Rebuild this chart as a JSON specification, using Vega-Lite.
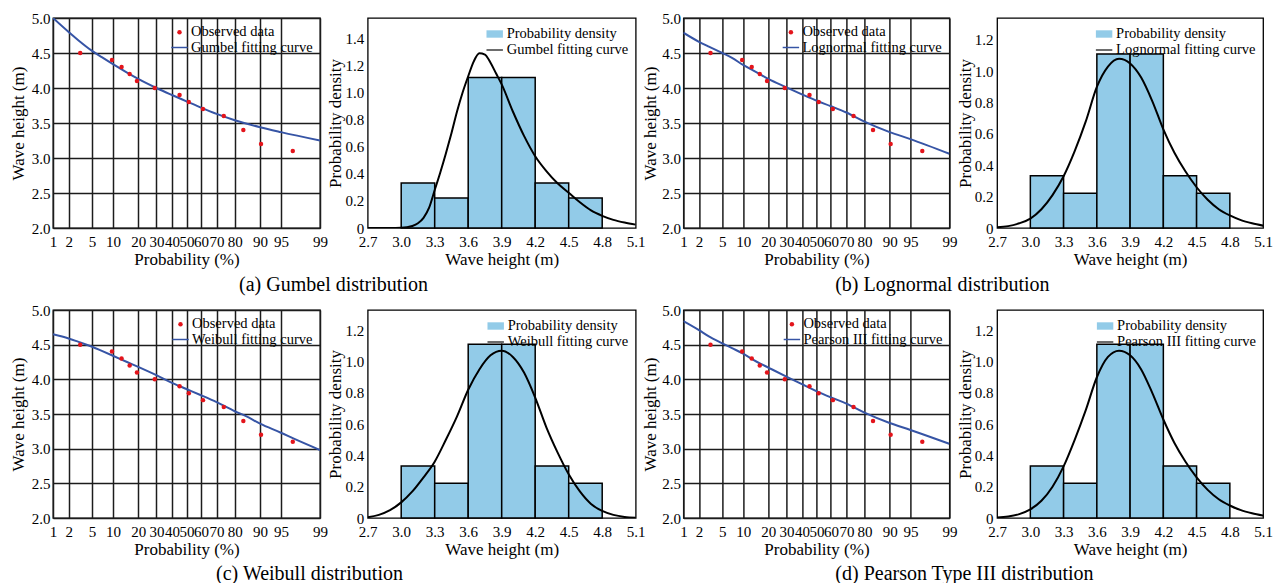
{
"$schema": "https://vega.github.io/schema/vega-lite/v6.json",
"padding": {"left": 8, "top": 10, "right": 5, "bottom": 2},
"background": "white",
"config": {
 "font": "Liberation Serif",
 "view": {"stroke": "black", "strokeWidth": 1.3},
 "axis": {"labelFontSize": 15, "titleFontSize": 17, "titleFontWeight": "normal", "labelColor": "black", "titleColor": "black", "domain": false, "labelFlush": false, "labelOverlap": false, "tickCount": 40, "ticks": false, "tickColor": "black", "gridColor": "#1c1c1c", "gridWidth": 1.5, "gridOpacity": 1, "labelFont": "Liberation Serif", "titleFont": "Liberation Serif"},
 "legend": {"labelFont": "Liberation Serif", "labelFontSize": 14.5, "labelColor": "black", "orient": "top-right", "offset": 5, "rowPadding": 0, "labelOffset": 3, "padding": 2},
 "title": {"font": "Liberation Serif", "fontSize": 20, "fontWeight": "normal", "color": "black"}
},
"datasets": {
 "obs": [
  {"p": 3.2, "h": 4.5, "s": "Observed data"}, {"p": 9.7, "h": 4.4, "s": "Observed data"}, {"p": 12.9, "h": 4.3, "s": "Observed data"}, {"p": 16.1, "h": 4.2, "s": "Observed data"}, {"p": 19.4, "h": 4.1, "s": "Observed data"}, {"p": 29.0, "h": 4.0, "s": "Observed data"}, {"p": 45.2, "h": 3.9, "s": "Observed data"}, {"p": 51.6, "h": 3.8, "s": "Observed data"}, {"p": 61.3, "h": 3.7, "s": "Observed data"}, {"p": 74.2, "h": 3.6, "s": "Observed data"}, {"p": 83.9, "h": 3.4, "s": "Observed data"}, {"p": 90.3, "h": 3.2, "s": "Observed data"}, {"p": 96.8, "h": 3.1, "s": "Observed data"}
 ],
 "gumbelCurve": [
  {"p": 1, "h": 5.0}, {"p": 2, "h": 4.8}, {"p": 3, "h": 4.68}, {"p": 5, "h": 4.53}, {"p": 7, "h": 4.44}, {"p": 10, "h": 4.34}, {"p": 15, "h": 4.22}, {"p": 20, "h": 4.13}, {"p": 30, "h": 4.0}, {"p": 40, "h": 3.9}, {"p": 50, "h": 3.81}, {"p": 60, "h": 3.72}, {"p": 70, "h": 3.63}, {"p": 80, "h": 3.54}, {"p": 90, "h": 3.44}, {"p": 95, "h": 3.37}, {"p": 99, "h": 3.25}
 ],
 "lognormCurve": [
  {"p": 1, "h": 4.79}, {"p": 2, "h": 4.66}, {"p": 3, "h": 4.59}, {"p": 5, "h": 4.5}, {"p": 7, "h": 4.43}, {"p": 10, "h": 4.33}, {"p": 15, "h": 4.22}, {"p": 20, "h": 4.13}, {"p": 30, "h": 4.01}, {"p": 40, "h": 3.91}, {"p": 50, "h": 3.82}, {"p": 60, "h": 3.74}, {"p": 70, "h": 3.65}, {"p": 80, "h": 3.52}, {"p": 90, "h": 3.37}, {"p": 95, "h": 3.27}, {"p": 99, "h": 3.06}
 ],
 "weibullCurve": [
  {"p": 1, "h": 4.65}, {"p": 2, "h": 4.59}, {"p": 3, "h": 4.54}, {"p": 5, "h": 4.47}, {"p": 7, "h": 4.41}, {"p": 10, "h": 4.34}, {"p": 15, "h": 4.25}, {"p": 20, "h": 4.18}, {"p": 30, "h": 4.06}, {"p": 40, "h": 3.95}, {"p": 50, "h": 3.86}, {"p": 60, "h": 3.77}, {"p": 70, "h": 3.67}, {"p": 80, "h": 3.54}, {"p": 85, "h": 3.47}, {"p": 90, "h": 3.36}, {"p": 95, "h": 3.23}, {"p": 97, "h": 3.14}, {"p": 99, "h": 2.98}
 ],
 "pearsonCurve": [
  {"p": 1, "h": 4.84}, {"p": 2, "h": 4.71}, {"p": 3, "h": 4.62}, {"p": 5, "h": 4.52}, {"p": 7, "h": 4.45}, {"p": 10, "h": 4.37}, {"p": 15, "h": 4.25}, {"p": 20, "h": 4.17}, {"p": 30, "h": 4.04}, {"p": 40, "h": 3.93}, {"p": 50, "h": 3.83}, {"p": 60, "h": 3.74}, {"p": 70, "h": 3.65}, {"p": 80, "h": 3.52}, {"p": 90, "h": 3.37}, {"p": 95, "h": 3.27}, {"p": 99, "h": 3.07}
 ],
 "hist": [
  {"x0": 3.0, "x1": 3.3, "d": 0.333, "s": "Probability density"}, {"x0": 3.3, "x1": 3.6, "d": 0.222, "s": "Probability density"}, {"x0": 3.6, "x1": 3.9, "d": 1.111, "s": "Probability density"}, {"x0": 3.9, "x1": 4.2, "d": 1.111, "s": "Probability density"}, {"x0": 4.2, "x1": 4.5, "d": 0.333, "s": "Probability density"}, {"x0": 4.5, "x1": 4.8, "d": 0.222, "s": "Probability density"}
 ],
 "gumbelPdf": [
  {"x": 2.7, "d": 0}, {"x": 2.8, "d": 0}, {"x": 2.9, "d": 0}, {"x": 3.0, "d": 0.002}, {"x": 3.05, "d": 0.006}, {"x": 3.1, "d": 0.015}, {"x": 3.15, "d": 0.035}, {"x": 3.2, "d": 0.075}, {"x": 3.25, "d": 0.15}, {"x": 3.3, "d": 0.28}, {"x": 3.35, "d": 0.41}, {"x": 3.4, "d": 0.55}, {"x": 3.45, "d": 0.7}, {"x": 3.5, "d": 0.86}, {"x": 3.55, "d": 1.0}, {"x": 3.6, "d": 1.12}, {"x": 3.65, "d": 1.23}, {"x": 3.7, "d": 1.29}, {"x": 3.75, "d": 1.28}, {"x": 3.8, "d": 1.22}, {"x": 3.85, "d": 1.14}, {"x": 3.9, "d": 1.06}, {"x": 4.0, "d": 0.86}, {"x": 4.1, "d": 0.68}, {"x": 4.2, "d": 0.53}, {"x": 4.3, "d": 0.42}, {"x": 4.4, "d": 0.33}, {"x": 4.5, "d": 0.26}, {"x": 4.6, "d": 0.19}, {"x": 4.7, "d": 0.13}, {"x": 4.8, "d": 0.09}, {"x": 4.9, "d": 0.06}, {"x": 5.0, "d": 0.04}, {"x": 5.1, "d": 0.025}
 ],
 "lognormPdf": [
  {"x": 2.7, "d": 0.005}, {"x": 2.8, "d": 0.012}, {"x": 2.9, "d": 0.03}, {"x": 3.0, "d": 0.06}, {"x": 3.1, "d": 0.12}, {"x": 3.2, "d": 0.21}, {"x": 3.3, "d": 0.33}, {"x": 3.4, "d": 0.49}, {"x": 3.5, "d": 0.68}, {"x": 3.6, "d": 0.9}, {"x": 3.7, "d": 1.03}, {"x": 3.8, "d": 1.08}, {"x": 3.9, "d": 1.05}, {"x": 4.0, "d": 0.96}, {"x": 4.1, "d": 0.81}, {"x": 4.2, "d": 0.63}, {"x": 4.3, "d": 0.48}, {"x": 4.4, "d": 0.36}, {"x": 4.5, "d": 0.26}, {"x": 4.6, "d": 0.18}, {"x": 4.7, "d": 0.12}, {"x": 4.8, "d": 0.08}, {"x": 4.9, "d": 0.05}, {"x": 5.0, "d": 0.03}, {"x": 5.1, "d": 0.015}
 ],
 "weibullPdf": [
  {"x": 2.7, "d": 0.005}, {"x": 2.8, "d": 0.02}, {"x": 2.9, "d": 0.05}, {"x": 3.0, "d": 0.1}, {"x": 3.1, "d": 0.17}, {"x": 3.2, "d": 0.26}, {"x": 3.3, "d": 0.36}, {"x": 3.4, "d": 0.5}, {"x": 3.5, "d": 0.65}, {"x": 3.6, "d": 0.82}, {"x": 3.7, "d": 0.95}, {"x": 3.8, "d": 1.04}, {"x": 3.9, "d": 1.07}, {"x": 4.0, "d": 1.03}, {"x": 4.1, "d": 0.93}, {"x": 4.2, "d": 0.77}, {"x": 4.3, "d": 0.58}, {"x": 4.4, "d": 0.42}, {"x": 4.5, "d": 0.28}, {"x": 4.6, "d": 0.17}, {"x": 4.7, "d": 0.09}, {"x": 4.8, "d": 0.045}, {"x": 4.9, "d": 0.02}, {"x": 5.0, "d": 0.007}, {"x": 5.1, "d": 0.002}
 ],
 "pearsonPdf": [
  {"x": 2.7, "d": 0.004}, {"x": 2.8, "d": 0.01}, {"x": 2.9, "d": 0.025}, {"x": 3.0, "d": 0.055}, {"x": 3.1, "d": 0.11}, {"x": 3.2, "d": 0.2}, {"x": 3.3, "d": 0.33}, {"x": 3.4, "d": 0.5}, {"x": 3.5, "d": 0.69}, {"x": 3.6, "d": 0.9}, {"x": 3.7, "d": 1.03}, {"x": 3.8, "d": 1.07}, {"x": 3.9, "d": 1.04}, {"x": 4.0, "d": 0.95}, {"x": 4.1, "d": 0.8}, {"x": 4.2, "d": 0.63}, {"x": 4.3, "d": 0.48}, {"x": 4.4, "d": 0.36}, {"x": 4.5, "d": 0.26}, {"x": 4.6, "d": 0.18}, {"x": 4.7, "d": 0.12}, {"x": 4.8, "d": 0.08}, {"x": 4.9, "d": 0.05}, {"x": 5.0, "d": 0.03}, {"x": 5.1, "d": 0.015}
 ]
},
"columns": 4,
"spacing": {"row": 82, "column": 47.7},
"bounds": "flush",
"resolve": {"scale": {"color": "independent", "shape": "independent", "size": "independent"}, "legend": {"color": "independent", "shape": "independent", "size": "independent"}},
"concat": [
  {"width": 267, "height": 210,
   "title": {"text": "(a) Gumbel distribution", "orient": "bottom", "anchor": "middle", "frame": "group", "offset": 8, "dx": 147},
   "layer": [
    {"data": {"name": "gumbelCurve"}, "transform": [{"calculate": "quantileNormal(datum.p/100)", "as": "z"}],
     "mark": {"type": "line", "color": "#3654a5", "strokeWidth": 2, "clip": true, "interpolate": "monotone"},
     "encoding": {
      "x": {"field": "z", "type": "quantitative", "scale": {"domain": [-2.3263, 2.3263], "nice": false, "zero": false}, "axis": {"values": [-2.3263, -2.0537, -1.6449, -1.2816, -0.8416, -0.5244, -0.2533, 0, 0.2533, 0.5244, 0.8416, 1.2816, 1.6449, 2.3263], "labelExpr": "format(cumulativeNormal(datum.value)*100, '.0f')", "title": "Probability (%)", "grid": true, "labelPadding": 6, "titlePadding": 2}},
      "y": {"field": "h", "type": "quantitative", "scale": {"domain": [2, 5], "nice": false, "zero": false}, "axis": {"values": [2, 2.5, 3, 3.5, 4, 4.5, 5], "format": ".1f", "title": "Wave height (m)", "grid": true, "labelPadding": 3, "titlePadding": 4}}
     }},
    {"data": {"name": "obs"}, "transform": [{"calculate": "quantileNormal(datum.p/100)", "as": "z"}],
     "mark": {"type": "point", "filled": true, "opacity": 1},
     "encoding": {
      "x": {"field": "z", "type": "quantitative"},
      "y": {"field": "h", "type": "quantitative"},
      "color": {"field": "s", "type": "nominal", "scale": {"domain": ["Observed data", "Gumbel fitting curve"], "range": ["#e3141b", "#3654a5"]}, "legend": {"title": null, "symbolStrokeWidth": 0}},
      "shape": {"field": "s", "type": "nominal", "scale": {"domain": ["Observed data", "Gumbel fitting curve"], "range": ["circle", "M-1,-0.09H1V0.09H-1Z"]}, "legend": {"title": null, "symbolStrokeWidth": 0}},
      "size": {"field": "s", "type": "nominal", "scale": {"domain": ["Observed data", "Gumbel fitting curve"], "range": [20, 270]}, "legend": {"title": null, "symbolStrokeWidth": 0}}
     }}
   ]},
  {"width": 268, "height": 210,
   "layer": [
    {"data": {"name": "hist"},
     "mark": {"type": "rect", "fill": "#92cbe8", "stroke": "black", "strokeWidth": 1.5},
     "encoding": {
      "x": {"field": "x0", "type": "quantitative", "scale": {"domain": [2.7, 5.1], "nice": false, "zero": false}, "axis": {"values": [2.7, 3.0, 3.3, 3.6, 3.9, 4.2, 4.5, 4.8, 5.1], "format": ".1f", "title": "Wave height (m)", "grid": false, "labelPadding": 6, "titlePadding": 2}},
      "x2": {"field": "x1"},
      "y": {"field": "d", "type": "quantitative", "scale": {"domain": [0, 1.55], "nice": false}, "axis": {"values": [0, 0.2, 0.4, 0.6, 0.8, 1.0, 1.2, 1.4], "labelExpr": "datum.value == 0 ? '0' : format(datum.value, '.1f')", "title": "Probability density", "grid": false, "labelPadding": 4, "titlePadding": 0}},
      "y2": {"datum": 0}
     }},
    {"data": {"name": "gumbelPdf"},
     "mark": {"type": "line", "color": "black", "strokeWidth": 2, "clip": true, "interpolate": "monotone"},
     "encoding": {"x": {"field": "x", "type": "quantitative"}, "y": {"field": "d", "type": "quantitative"}}},
    {"data": {"name": "hist"},
     "mark": {"type": "point", "filled": true, "opacity": 0},
     "encoding": {
      "x": {"field": "x0", "type": "quantitative"},
      "y": {"field": "d", "type": "quantitative"},
      "color": {"field": "s", "type": "nominal", "scale": {"domain": ["Probability density", "Gumbel fitting curve"], "range": ["#92cbe8", "black"]}, "legend": {"title": null, "symbolOpacity": 1, "symbolStrokeColor": "black", "symbolStrokeWidth": 1, "symbolSize": 270}},
      "shape": {"field": "s", "type": "nominal", "scale": {"domain": ["Probability density", "Gumbel fitting curve"], "range": ["M-1,-0.45H1V0.45H-1Z", "M-1,-0.07H1V0.07H-1Z"]}, "legend": {"title": null, "symbolOpacity": 1, "symbolStrokeColor": "black", "symbolStrokeWidth": 1, "symbolSize": 270}}
     }}
   ]},
  {"width": 266, "height": 210,
   "title": {"text": "(b) Lognormal distribution", "orient": "bottom", "anchor": "middle", "frame": "group", "offset": 8, "dx": 126},
   "layer": [
    {"data": {"name": "lognormCurve"}, "transform": [{"calculate": "quantileNormal(datum.p/100)", "as": "z"}],
     "mark": {"type": "line", "color": "#3654a5", "strokeWidth": 2, "clip": true, "interpolate": "monotone"},
     "encoding": {
      "x": {"field": "z", "type": "quantitative", "scale": {"domain": [-2.3263, 2.3263], "nice": false, "zero": false}, "axis": {"values": [-2.3263, -2.0537, -1.6449, -1.2816, -0.8416, -0.5244, -0.2533, 0, 0.2533, 0.5244, 0.8416, 1.2816, 1.6449, 2.3263], "labelExpr": "format(cumulativeNormal(datum.value)*100, '.0f')", "title": "Probability (%)", "grid": true, "labelPadding": 6, "titlePadding": 2}},
      "y": {"field": "h", "type": "quantitative", "scale": {"domain": [2, 5], "nice": false, "zero": false}, "axis": {"values": [2, 2.5, 3, 3.5, 4, 4.5, 5], "format": ".1f", "title": "Wave height (m)", "grid": true, "labelPadding": 3, "titlePadding": 2}}
     }},
    {"data": {"name": "obs"}, "transform": [{"calculate": "quantileNormal(datum.p/100)", "as": "z"}],
     "mark": {"type": "point", "filled": true, "opacity": 1},
     "encoding": {
      "x": {"field": "z", "type": "quantitative"},
      "y": {"field": "h", "type": "quantitative"},
      "color": {"field": "s", "type": "nominal", "scale": {"domain": ["Observed data", "Lognormal fitting curve"], "range": ["#e3141b", "#3654a5"]}, "legend": {"title": null, "symbolStrokeWidth": 0}},
      "shape": {"field": "s", "type": "nominal", "scale": {"domain": ["Observed data", "Lognormal fitting curve"], "range": ["circle", "M-1,-0.09H1V0.09H-1Z"]}, "legend": {"title": null, "symbolStrokeWidth": 0}},
      "size": {"field": "s", "type": "nominal", "scale": {"domain": ["Observed data", "Lognormal fitting curve"], "range": [20, 270]}, "legend": {"title": null, "symbolStrokeWidth": 0}}
     }}
   ]},
  {"width": 266, "height": 210,
   "layer": [
    {"data": {"name": "hist"},
     "mark": {"type": "rect", "fill": "#92cbe8", "stroke": "black", "strokeWidth": 1.5},
     "encoding": {
      "x": {"field": "x0", "type": "quantitative", "scale": {"domain": [2.7, 5.1], "nice": false, "zero": false}, "axis": {"values": [2.7, 3.0, 3.3, 3.6, 3.9, 4.2, 4.5, 4.8, 5.1], "format": ".1f", "title": "Wave height (m)", "grid": false, "labelPadding": 6, "titlePadding": 2}},
      "x2": {"field": "x1"},
      "y": {"field": "d", "type": "quantitative", "scale": {"domain": [0, 1.34], "nice": false}, "axis": {"values": [0, 0.2, 0.4, 0.6, 0.8, 1.0, 1.2], "labelExpr": "datum.value == 0 ? '0' : format(datum.value, '.1f')", "title": "Probability density", "grid": false, "labelPadding": 4, "titlePadding": 0}},
      "y2": {"datum": 0}
     }},
    {"data": {"name": "lognormPdf"},
     "mark": {"type": "line", "color": "black", "strokeWidth": 2, "clip": true, "interpolate": "monotone"},
     "encoding": {"x": {"field": "x", "type": "quantitative"}, "y": {"field": "d", "type": "quantitative"}}},
    {"data": {"name": "hist"},
     "mark": {"type": "point", "filled": true, "opacity": 0},
     "encoding": {
      "x": {"field": "x0", "type": "quantitative"},
      "y": {"field": "d", "type": "quantitative"},
      "color": {"field": "s", "type": "nominal", "scale": {"domain": ["Probability density", "Lognormal fitting curve"], "range": ["#92cbe8", "black"]}, "legend": {"title": null, "symbolOpacity": 1, "symbolStrokeColor": "black", "symbolStrokeWidth": 1, "symbolSize": 270}},
      "shape": {"field": "s", "type": "nominal", "scale": {"domain": ["Probability density", "Lognormal fitting curve"], "range": ["M-1,-0.45H1V0.45H-1Z", "M-1,-0.07H1V0.07H-1Z"]}, "legend": {"title": null, "symbolOpacity": 1, "symbolStrokeColor": "black", "symbolStrokeWidth": 1, "symbolSize": 270}}
     }}
   ]},
  {"width": 267, "height": 208,
   "title": {"text": "(c) Weibull distribution", "orient": "bottom", "anchor": "middle", "frame": "group", "offset": 7, "dx": 123},
   "layer": [
    {"data": {"name": "weibullCurve"}, "transform": [{"calculate": "quantileNormal(datum.p/100)", "as": "z"}],
     "mark": {"type": "line", "color": "#3654a5", "strokeWidth": 2, "clip": true, "interpolate": "monotone"},
     "encoding": {
      "x": {"field": "z", "type": "quantitative", "scale": {"domain": [-2.3263, 2.3263], "nice": false, "zero": false}, "axis": {"values": [-2.3263, -2.0537, -1.6449, -1.2816, -0.8416, -0.5244, -0.2533, 0, 0.2533, 0.5244, 0.8416, 1.2816, 1.6449, 2.3263], "labelExpr": "format(cumulativeNormal(datum.value)*100, '.0f')", "title": "Probability (%)", "grid": true, "labelPadding": 6, "titlePadding": 2}},
      "y": {"field": "h", "type": "quantitative", "scale": {"domain": [2, 5], "nice": false, "zero": false}, "axis": {"values": [2, 2.5, 3, 3.5, 4, 4.5, 5], "format": ".1f", "title": "Wave height (m)", "grid": true, "labelPadding": 3, "titlePadding": 4}}
     }},
    {"data": {"name": "obs"}, "transform": [{"calculate": "quantileNormal(datum.p/100)", "as": "z"}],
     "mark": {"type": "point", "filled": true, "opacity": 1},
     "encoding": {
      "x": {"field": "z", "type": "quantitative"},
      "y": {"field": "h", "type": "quantitative"},
      "color": {"field": "s", "type": "nominal", "scale": {"domain": ["Observed data", "Weibull fitting curve"], "range": ["#e3141b", "#3654a5"]}, "legend": {"title": null, "symbolStrokeWidth": 0}},
      "shape": {"field": "s", "type": "nominal", "scale": {"domain": ["Observed data", "Weibull fitting curve"], "range": ["circle", "M-1,-0.09H1V0.09H-1Z"]}, "legend": {"title": null, "symbolStrokeWidth": 0}},
      "size": {"field": "s", "type": "nominal", "scale": {"domain": ["Observed data", "Weibull fitting curve"], "range": [20, 270]}, "legend": {"title": null, "symbolStrokeWidth": 0}}
     }}
   ]},
  {"width": 268, "height": 208,
   "layer": [
    {"data": {"name": "hist"},
     "mark": {"type": "rect", "fill": "#92cbe8", "stroke": "black", "strokeWidth": 1.5},
     "encoding": {
      "x": {"field": "x0", "type": "quantitative", "scale": {"domain": [2.7, 5.1], "nice": false, "zero": false}, "axis": {"values": [2.7, 3.0, 3.3, 3.6, 3.9, 4.2, 4.5, 4.8, 5.1], "format": ".1f", "title": "Wave height (m)", "grid": false, "labelPadding": 6, "titlePadding": 2}},
      "x2": {"field": "x1"},
      "y": {"field": "d", "type": "quantitative", "scale": {"domain": [0, 1.33], "nice": false}, "axis": {"values": [0, 0.2, 0.4, 0.6, 0.8, 1.0, 1.2], "labelExpr": "datum.value == 0 ? '0' : format(datum.value, '.1f')", "title": "Probability density", "grid": false, "labelPadding": 4, "titlePadding": 0}},
      "y2": {"datum": 0}
     }},
    {"data": {"name": "weibullPdf"},
     "mark": {"type": "line", "color": "black", "strokeWidth": 2, "clip": true, "interpolate": "monotone"},
     "encoding": {"x": {"field": "x", "type": "quantitative"}, "y": {"field": "d", "type": "quantitative"}}},
    {"data": {"name": "hist"},
     "mark": {"type": "point", "filled": true, "opacity": 0},
     "encoding": {
      "x": {"field": "x0", "type": "quantitative"},
      "y": {"field": "d", "type": "quantitative"},
      "color": {"field": "s", "type": "nominal", "scale": {"domain": ["Probability density", "Weibull fitting curve"], "range": ["#92cbe8", "black"]}, "legend": {"title": null, "symbolOpacity": 1, "symbolStrokeColor": "black", "symbolStrokeWidth": 1, "symbolSize": 270}},
      "shape": {"field": "s", "type": "nominal", "scale": {"domain": ["Probability density", "Weibull fitting curve"], "range": ["M-1,-0.45H1V0.45H-1Z", "M-1,-0.07H1V0.07H-1Z"]}, "legend": {"title": null, "symbolOpacity": 1, "symbolStrokeColor": "black", "symbolStrokeWidth": 1, "symbolSize": 270}}
     }}
   ]},
  {"width": 266, "height": 208,
   "title": {"text": "(d) Pearson Type III distribution", "orient": "bottom", "anchor": "middle", "frame": "group", "offset": 7, "dx": 148},
   "layer": [
    {"data": {"name": "pearsonCurve"}, "transform": [{"calculate": "quantileNormal(datum.p/100)", "as": "z"}],
     "mark": {"type": "line", "color": "#3654a5", "strokeWidth": 2, "clip": true, "interpolate": "monotone"},
     "encoding": {
      "x": {"field": "z", "type": "quantitative", "scale": {"domain": [-2.3263, 2.3263], "nice": false, "zero": false}, "axis": {"values": [-2.3263, -2.0537, -1.6449, -1.2816, -0.8416, -0.5244, -0.2533, 0, 0.2533, 0.5244, 0.8416, 1.2816, 1.6449, 2.3263], "labelExpr": "format(cumulativeNormal(datum.value)*100, '.0f')", "title": "Probability (%)", "grid": true, "labelPadding": 6, "titlePadding": 2}},
      "y": {"field": "h", "type": "quantitative", "scale": {"domain": [2, 5], "nice": false, "zero": false}, "axis": {"values": [2, 2.5, 3, 3.5, 4, 4.5, 5], "format": ".1f", "title": "Wave height (m)", "grid": true, "labelPadding": 3, "titlePadding": 2}}
     }},
    {"data": {"name": "obs"}, "transform": [{"calculate": "quantileNormal(datum.p/100)", "as": "z"}],
     "mark": {"type": "point", "filled": true, "opacity": 1},
     "encoding": {
      "x": {"field": "z", "type": "quantitative"},
      "y": {"field": "h", "type": "quantitative"},
      "color": {"field": "s", "type": "nominal", "scale": {"domain": ["Observed data", "Pearson III fitting curve"], "range": ["#e3141b", "#3654a5"]}, "legend": {"title": null, "symbolStrokeWidth": 0}},
      "shape": {"field": "s", "type": "nominal", "scale": {"domain": ["Observed data", "Pearson III fitting curve"], "range": ["circle", "M-1,-0.09H1V0.09H-1Z"]}, "legend": {"title": null, "symbolStrokeWidth": 0}},
      "size": {"field": "s", "type": "nominal", "scale": {"domain": ["Observed data", "Pearson III fitting curve"], "range": [20, 270]}, "legend": {"title": null, "symbolStrokeWidth": 0}}
     }}
   ]},
  {"width": 266, "height": 208,
   "layer": [
    {"data": {"name": "hist"},
     "mark": {"type": "rect", "fill": "#92cbe8", "stroke": "black", "strokeWidth": 1.5},
     "encoding": {
      "x": {"field": "x0", "type": "quantitative", "scale": {"domain": [2.7, 5.1], "nice": false, "zero": false}, "axis": {"values": [2.7, 3.0, 3.3, 3.6, 3.9, 4.2, 4.5, 4.8, 5.1], "format": ".1f", "title": "Wave height (m)", "grid": false, "labelPadding": 6, "titlePadding": 2}},
      "x2": {"field": "x1"},
      "y": {"field": "d", "type": "quantitative", "scale": {"domain": [0, 1.33], "nice": false}, "axis": {"values": [0, 0.2, 0.4, 0.6, 0.8, 1.0, 1.2], "labelExpr": "datum.value == 0 ? '0' : format(datum.value, '.1f')", "title": "Probability density", "grid": false, "labelPadding": 4, "titlePadding": 0}},
      "y2": {"datum": 0}
     }},
    {"data": {"name": "pearsonPdf"},
     "mark": {"type": "line", "color": "black", "strokeWidth": 2, "clip": true, "interpolate": "monotone"},
     "encoding": {"x": {"field": "x", "type": "quantitative"}, "y": {"field": "d", "type": "quantitative"}}},
    {"data": {"name": "hist"},
     "mark": {"type": "point", "filled": true, "opacity": 0},
     "encoding": {
      "x": {"field": "x0", "type": "quantitative"},
      "y": {"field": "d", "type": "quantitative"},
      "color": {"field": "s", "type": "nominal", "scale": {"domain": ["Probability density", "Pearson III fitting curve"], "range": ["#92cbe8", "black"]}, "legend": {"title": null, "symbolOpacity": 1, "symbolStrokeColor": "black", "symbolStrokeWidth": 1, "symbolSize": 270}},
      "shape": {"field": "s", "type": "nominal", "scale": {"domain": ["Probability density", "Pearson III fitting curve"], "range": ["M-1,-0.45H1V0.45H-1Z", "M-1,-0.07H1V0.07H-1Z"]}, "legend": {"title": null, "symbolOpacity": 1, "symbolStrokeColor": "black", "symbolStrokeWidth": 1, "symbolSize": 270}}
     }}
   ]}
]
}
